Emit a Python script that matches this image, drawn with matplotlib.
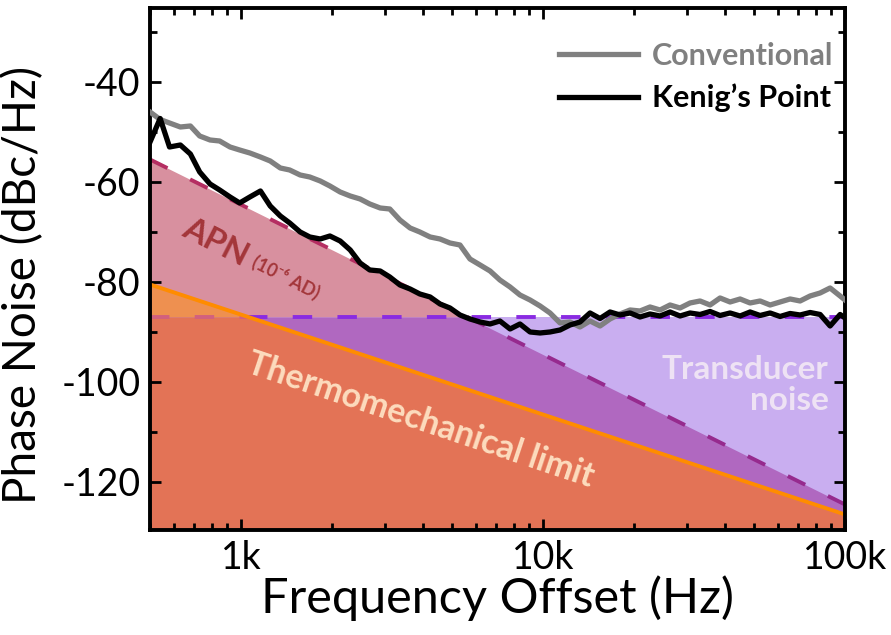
import numpy as np
import matplotlib.pyplot as plt
from matplotlib.ticker import FixedLocator, LogLocator, MultipleLocator, NullFormatter

plt.rcParams['font.family'] = ['Lato', 'DejaVu Sans']
plt.rcParams['axes.unicode_minus'] = False

freq = [500, 540, 580, 630, 680, 730, 790, 850, 920, 990,
        1070, 1160, 1250, 1350, 1450, 1570, 1690, 1830, 1970, 2130,
        2300, 2480, 2670, 2890, 3110, 3360, 3630, 3910, 4230, 4560,
        4920, 5310, 5730, 6190, 6680, 7200, 7780, 8390, 9060, 9780,
        10550, 11390, 12290, 13260, 14310, 15450, 16670, 17990, 19420, 20950,
        22610, 24410, 26340, 28430, 30680, 33110, 35740, 38570, 41630, 44930,
        48490, 52330, 56480, 60950, 65780, 71000, 76620, 82700, 89250, 96330,
        100000]

conventional = [-46.0, -47.5, -48.2, -49.0, -48.8, -50.8, -51.6, -51.8, -53.0, -53.6,
                -54.2, -55.0, -55.8, -57.2, -57.6, -58.6, -59.0, -59.8, -60.8, -62.0,
                -62.8, -63.4, -64.4, -65.2, -65.4, -67.6, -69.2, -70.0, -71.0, -71.4,
                -72.2, -72.6, -75.4, -76.6, -77.8, -79.6, -81.0, -82.6, -83.6, -84.8,
                -86.2, -88.2, -88.0, -89.0, -87.8, -88.8, -87.4, -86.4, -85.6, -85.8,
                -85.0, -85.6, -84.6, -85.2, -84.2, -83.8, -84.6, -83.2, -84.0, -83.4,
                -84.2, -83.8, -84.6, -84.0, -83.4, -83.8, -82.8, -82.2, -81.2, -82.8,
                -83.6]

kenig = [-52.0, -47.3, -53.0, -52.6, -54.4, -58.0, -60.4, -61.6, -63.0, -64.2,
         -63.0, -61.8, -64.8, -66.8, -68.2, -70.0, -71.0, -71.4, -70.8, -71.8,
         -73.6, -76.2, -77.6, -77.8, -79.0, -80.6, -81.4, -82.4, -83.0, -84.4,
         -85.2, -86.6, -87.4, -88.0, -88.4, -87.8, -89.4, -88.4, -90.0, -90.2,
         -90.0, -89.6, -88.6, -88.0, -86.2, -87.3, -86.0, -86.6, -86.2, -87.0,
         -86.4, -86.8, -86.0, -86.8, -86.2, -86.5, -85.9, -86.7, -86.2, -86.8,
         -86.0, -86.7, -86.2, -86.9, -86.3, -86.6, -86.1, -86.5, -88.8, -86.5,
         -87.2]

# noise limits, straight lines on the log axis (500 Hz and 100 kHz ends)
model_f = [500, 100000]
thermo = [-80.5, -126.5]
apn = [-55.5, -124.5]
transducer = -87

xticks = [1000, 10000, 100000]
xticklabels = ['1k', '10k', '100k']
yticks = [-120, -100, -80, -60, -40]

ybot, ytop = -129.6, -25.2

logf = np.log10(model_f)
f_apn = 10 ** np.interp(transducer, apn[::-1], logf[::-1])
f_th = 10 ** np.interp(transducer, thermo[::-1], logf[::-1])

fig = plt.figure(figsize=(8.91, 6.35), dpi=100)
ax = fig.add_axes([0.1684, 0.1654, 0.78, 0.822])
ax.set_xscale('log')

# shaded regions
ax.fill_between(model_f, ybot, transducer, color='#C9AEF0', lw=0)
ax.fill_between([500, f_apn], transducer, [apn[0], transducer], color='#D8909F', lw=0)
ax.fill_between([500, f_apn, 1e5], ybot, [transducer, transducer, apn[1]], color='#B068C0', lw=0)
ax.fill_between([500, f_th], transducer, [thermo[0], transducer], color='#EE9050', lw=0)
ax.fill_between([500, f_th, 1e5], ybot, [transducer, transducer, thermo[1]], color='#E37356', lw=0)

dash = (0, (5, 6.5))
ax.plot([500, f_th], [transducer, transducer], ls=dash, color='#D2607E', lw=2.8)
ax.plot([f_th, 1e5], [transducer, transducer], ls=dash, color='#8A2BE2', lw=2.8)
ax.plot([500, f_apn], [apn[0], transducer], ls=dash, color='#B52E62', lw=2.8)
ax.plot([f_apn, 1e5], [transducer, apn[1]], ls=dash, color='#962A8E', lw=2.8)
ax.plot(model_f, thermo, color='#FF8C00', lw=2.8)

ax.plot(freq, conventional, color='#808080', lw=3.8, label='Conventional', zorder=5)
ax.plot(freq, kenig, color='black', lw=3.8, label='Kenig\u2019s Point', zorder=6)

ax.text(823, -72, 'APN', color='#A3363A', fontsize=24, fontweight='bold',
        rotation=-27, ha='center', va='center')
ax.text(1403, -79.2, '(10\u207b\u2076 AD)', color='#A3363A', fontsize=13, fontweight='bold',
        rotation=-27, ha='center', va='center')
ax.text(3928, -107.6, 'Thermomechanical limit', color='#FDDCBE', fontsize=24.5,
        fontweight='bold', rotation=-18.5, ha='center', va='center')
ax.text(88100, -100.6, 'Transducer\nnoise', color='#EEE2F4', fontsize=24,
        fontweight='bold', ha='right', va='center', multialignment='right', linespacing=1.1)

leg = ax.legend(loc='upper right', bbox_to_anchor=(0.983, 0.935), frameon=False,
                prop={'weight': 'bold', 'size': 22}, labelcolor='linecolor',
                handlelength=2.6, handletextpad=0.45, labelspacing=0.45,
                borderpad=0, borderaxespad=0)

ax.set_xlim(500, 1e5)
ax.set_ylim(ybot, ytop)
ax.xaxis.set_major_locator(FixedLocator(xticks))
ax.set_xticklabels(xticklabels)
ax.xaxis.set_minor_locator(LogLocator(base=10, subs=range(2, 10)))
ax.xaxis.set_minor_formatter(NullFormatter())
ax.set_yticks(yticks)
ax.yaxis.set_minor_locator(MultipleLocator(10))
ax.tick_params(which='both', direction='in', top=True, right=True, width=2)
ax.tick_params(which='major', length=8, labelsize=27, pad=7)
ax.tick_params(which='minor', length=5)
for s in ax.spines.values():
    s.set_linewidth(2.8)

ax.set_xlabel('Frequency Offset (Hz)', fontsize=35, labelpad=0)
ax.set_ylabel('Phase Noise (dBc/Hz)', fontsize=33)
ax.yaxis.set_label_coords(-0.152, 0.47)

fig.savefig('out.png', dpi=100)
